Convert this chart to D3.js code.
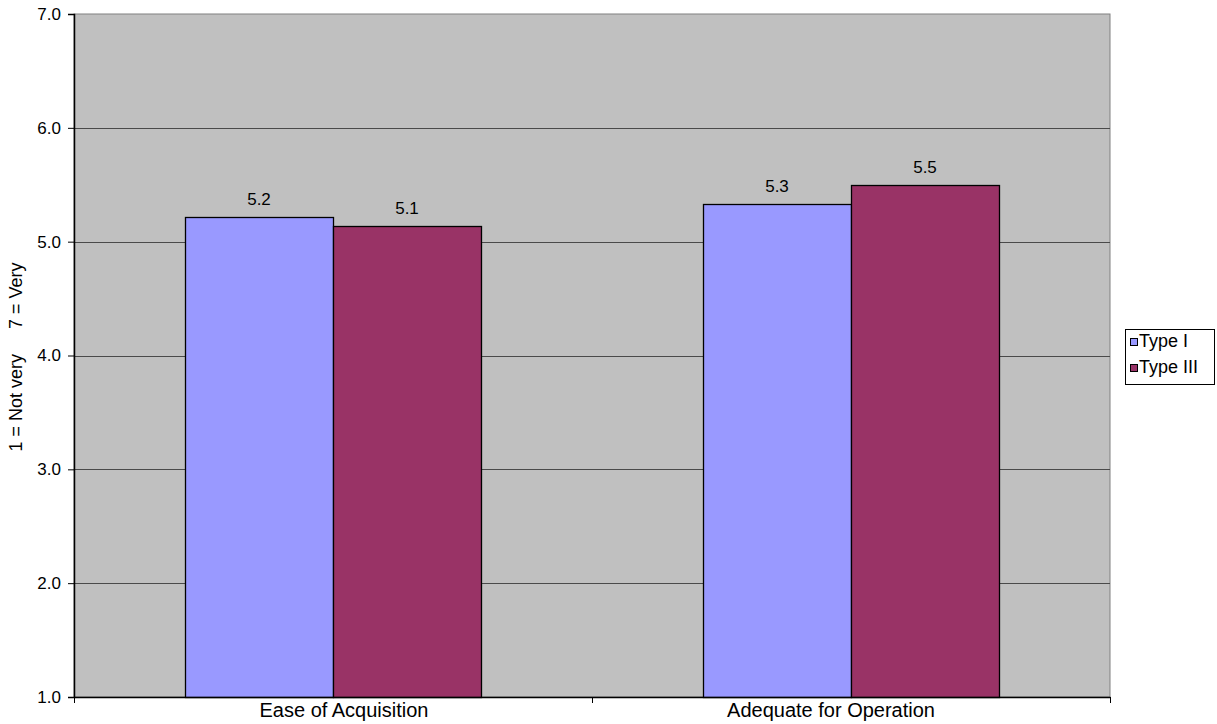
<!DOCTYPE html>
<html>
<head>
<meta charset="utf-8">
<script src="https://cdn.jsdelivr.net/npm/d3@7"></script>
<style>
html,body{margin:0;padding:0;background:#fff;}
svg{display:block;font-family:"Liberation Sans",Arial,sans-serif;}
</style>
</head>
<body>
<svg id="chart" width="1217" height="724"></svg>
<script>
const categories = ["Ease of Acquisition", "Adequate for Operation"];
const seriesNames = ["Type I", "Type III"];
const typeI = [5.22, 5.33];
const typeIII = [5.14, 5.50];
const seriesValues = [typeI, typeIII];
const seriesColors = ["#9999FF", "#993366"];
const yTicks = [1, 2, 3, 4, 5, 6, 7];
const yTitle = "1 = Not very     7 = Very";

const svg = d3.select("#chart");
const pL = 74, pR = 1110, pT = 14, pB = 697;

const y = d3.scaleLinear().domain([1, 7]).range([pB, pT]);
const x0 = d3.scaleBand().domain(categories).range([pL, pR]).paddingInner(0).paddingOuter(0);
// Excel gap width 150%: two bars + 1.5 bar gap per category
const bw = x0.bandwidth() / 3.5;
const x1 = d3.scaleBand().domain(seriesNames).range([0.75 * bw, 2.75 * bw]).padding(0);

// plot background
svg.append("rect").attr("x", pL).attr("y", pT).attr("width", pR - pL).attr("height", pB - pT)
  .attr("fill", "#C0C0C0").attr("stroke", "#808080").attr("stroke-width", 1);

// gridlines
svg.append("g").selectAll("line").data(yTicks.filter(d => d > 1 && d < 7)).join("line")
  .attr("x1", pL).attr("x2", pR)
  .attr("y1", d => Math.round(y(d)) + 0.5).attr("y2", d => Math.round(y(d)) + 0.5)
  .attr("stroke", "#4a4a4a").attr("stroke-width", 1);

// bars
const groups = svg.append("g").selectAll("g").data(categories).join("g")
  .attr("transform", c => `translate(${x0(c)},0)`);
groups.selectAll("rect").data((c, i) => seriesNames.map((s, j) => ({s, v: seriesValues[j][i], j}))).join("rect")
  .attr("x", d => Math.round(x1(d.s)) + 0.5)
  .attr("y", d => Math.round(y(d.v)) + 0.5)
  .attr("width", Math.round(x1.bandwidth()))
  .attr("height", d => pB - Math.round(y(d.v)))
  .attr("fill", d => seriesColors[d.j])
  .attr("stroke", "#000").attr("stroke-width", 1.3);

// value labels
groups.selectAll("text").data((c, i) => seriesNames.map((s, j) => ({s, v: seriesValues[j][i]}))).join("text")
  .attr("x", d => x1(d.s) + x1.bandwidth() / 2)
  .attr("y", d => y(d.v) - 12)
  .attr("text-anchor", "middle")
  .attr("font-size", 17)
  .attr("fill", "#000")
  .text(d => d.v.toFixed(1));

// y axis
const yAxis = svg.append("g").attr("transform", `translate(${pL},0)`)
  .call(d3.axisLeft(y).tickValues(yTicks).tickFormat(d3.format(".1f")).tickSize(6).tickPadding(7));
yAxis.select(".domain").attr("stroke", "#000").attr("stroke-width", 1.5);
yAxis.selectAll(".tick line").attr("stroke", "#000");
yAxis.selectAll(".tick text").attr("font-size", 17).attr("font-family", "Liberation Sans, Arial, sans-serif").attr("fill", "#000");

// x axis
const labelShift = [11, -20];
const xAxis = svg.append("g").attr("transform", `translate(0,${pB})`)
  .call(d3.axisBottom(x0).tickSize(0).tickPadding(4));
xAxis.select(".domain").attr("stroke", "#000").attr("stroke-width", 1.5);
xAxis.selectAll(".tick text").attr("font-size", 20).attr("font-family", "Liberation Sans, Arial, sans-serif")
  .attr("fill", "#000").attr("dy", "0.78em").attr("dx", (d, i) => labelShift[i]);
// category boundary ticks
svg.append("g").selectAll("line").data([...categories.map(c => x0(c)), pR]).join("line")
  .attr("x1", d => Math.round(d) + 0.5).attr("x2", d => Math.round(d) + 0.5)
  .attr("y1", pB).attr("y2", pB + 6)
  .attr("stroke", "#000");

// y title
svg.append("text")
  .attr("transform", `translate(22,357) rotate(-90)`)
  .attr("text-anchor", "middle")
  .attr("font-size", 18)
  .attr("xml:space", "preserve")
  .style("white-space", "pre")
  .attr("fill", "#000")
  .text(yTitle);

// legend
const lg = svg.append("g");
lg.append("rect").attr("x", 1125.5).attr("y", 329.5).attr("width", 89).attr("height", 55)
  .attr("fill", "#fff").attr("stroke", "#000");
seriesNames.forEach((s, i) => {
  const yy = 338 + i * 26;
  lg.append("rect").attr("x", 1130.5).attr("y", yy + 0.5).attr("width", 7).attr("height", 7)
    .attr("fill", seriesColors[i]).attr("stroke", "#000");
  lg.append("text").attr("x", 1139).attr("y", yy + 9).attr("font-size", 18).attr("fill", "#000").text(s);
});
</script>
</body>
</html>
